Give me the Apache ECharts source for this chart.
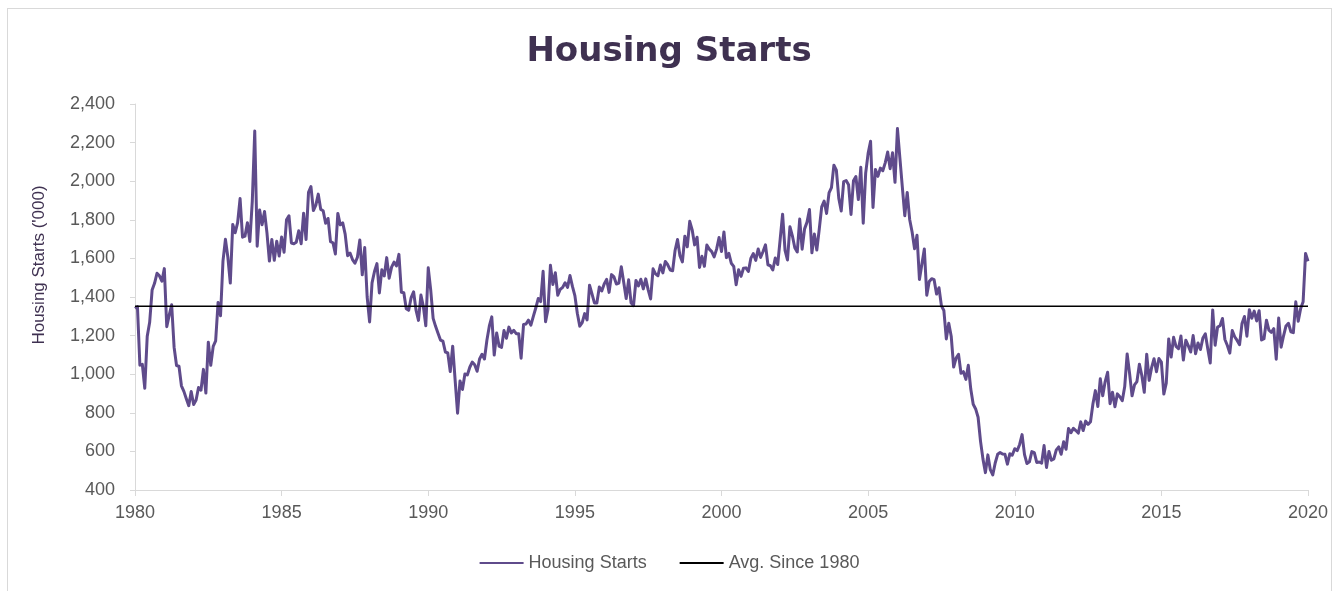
<!DOCTYPE html>
<html>
<head>
<meta charset="utf-8">
<script src="https://cdn.jsdelivr.net/npm/echarts@6.0.0/dist/echarts.min.js"></script>
<style>
    html, body { margin: 0; padding: 0; background: #fff; }
    #frame { position: absolute; left: 7px; top: 8px; width: 1323px; height: 600px; border: 1px solid #d9d9d9; }
    #chart { position: absolute; left: 0; top: 0; width: 1338px; height: 591px; }
</style>
</head>
<body>
<div id="frame"></div>
<div id="chart"></div>
<script>
    // monthly housing starts ('000, SAAR), Jan of first year -> Dec of last year
    const starts1980s = [
        1341, 1350, 1047, 1051, 927, 1196, 1269, 1436, 1471, 1523, 1510, 1482,
        1547, 1246, 1306, 1360, 1140, 1045, 1041, 940, 911, 873, 837, 910,
        843, 866, 931, 917, 1025, 902, 1166, 1046, 1144, 1173, 1372, 1303,
        1586, 1699, 1606, 1472, 1776, 1733, 1785, 1910, 1710, 1715, 1785, 1688,
        1897, 2260, 1663, 1851, 1774, 1843, 1732, 1586, 1698, 1590, 1689, 1612,
        1711, 1632, 1800, 1821, 1680, 1676, 1684, 1743, 1676, 1834, 1698, 1942,
        1972, 1848, 1876, 1933, 1854, 1847, 1782, 1807, 1687, 1681, 1623, 1833,
        1774, 1784, 1726, 1614, 1628, 1594, 1575, 1605, 1695, 1515, 1656, 1400,
        1271, 1473, 1532, 1573, 1421, 1541, 1509, 1604, 1497, 1555, 1581, 1561,
        1621, 1425, 1422, 1339, 1331, 1397, 1427, 1332, 1279, 1410, 1351, 1251
    ]
    const starts1990s = [
        1551, 1437, 1289, 1248, 1212, 1177, 1171, 1115, 1110, 1014, 1145, 969,
        798, 965, 921, 1001, 996, 1036, 1063, 1049, 1015, 1079, 1103, 1079,
        1176, 1250, 1297, 1099, 1214, 1145, 1139, 1226, 1186, 1244, 1214, 1227,
        1210, 1210, 1083, 1258, 1260, 1280, 1254, 1300, 1343, 1392, 1376, 1533,
        1272, 1337, 1564, 1465, 1526, 1409, 1439, 1450, 1474, 1450, 1511, 1455,
        1407, 1316, 1249, 1267, 1314, 1281, 1461, 1416, 1369, 1369, 1452, 1431,
        1467, 1491, 1424, 1516, 1504, 1467, 1472, 1557, 1475, 1392, 1489, 1370,
        1355, 1486, 1457, 1492, 1442, 1494, 1437, 1390, 1546, 1520, 1510, 1566,
        1525, 1584, 1567, 1540, 1536, 1641, 1698, 1614, 1582, 1715, 1660, 1792,
        1748, 1670, 1710, 1553, 1611, 1559, 1669, 1648, 1635, 1608, 1648, 1708
    ]
    const starts2000s = [
        1636, 1737, 1604, 1626, 1575, 1559, 1463, 1541, 1507, 1549, 1551, 1532,
        1600, 1625, 1590, 1649, 1605, 1636, 1670, 1567, 1562, 1540, 1602, 1568,
        1698, 1829, 1642, 1592, 1764, 1717, 1655, 1633, 1804, 1648, 1753, 1788,
        1853, 1629, 1726, 1643, 1751, 1867, 1897, 1833, 1939, 1967, 2083, 2057,
        1911, 1846, 1998, 2003, 1981, 1828, 2002, 2024, 1905, 2072, 1782, 2042,
        2144, 2207, 1864, 2061, 2025, 2068, 2054, 2095, 2151, 2065, 2147, 1994,
        2273, 2119, 1969, 1821, 1942, 1802, 1737, 1650, 1720, 1491, 1570, 1649,
        1409, 1480, 1495, 1490, 1415, 1448, 1354, 1330, 1183, 1264, 1197, 1037,
        1084, 1103, 1005, 1013, 973, 1046, 923, 844, 820, 777, 652, 560,
        490, 582, 505, 478, 540, 585, 594, 586, 585, 534, 588, 581
    ]
    const starts2010s = [
        614, 604, 636, 687, 583, 537, 546, 599, 594, 543, 545, 539,
        630, 517, 600, 554, 561, 608, 623, 585, 650, 611, 719, 697,
        720, 708, 695, 753, 708, 757, 740, 754, 847, 915, 833, 976,
        888, 962, 1010, 847, 907, 831, 898, 883, 863, 936, 1105, 1003,
        888, 945, 962, 1052, 993, 906, 1104, 968, 1034, 1080, 1013, 1081,
        1063, 897, 953, 1183, 1089, 1191, 1144, 1132, 1198, 1073, 1176, 1148,
        1115, 1200, 1106, 1162, 1128, 1188, 1209, 1130, 1058, 1333, 1150, 1244,
        1251, 1289, 1180, 1149, 1109, 1226, 1194, 1175, 1153, 1263, 1299, 1197,
        1334, 1290, 1327, 1276, 1329, 1177, 1184, 1280, 1228, 1217, 1236, 1078,
        1291, 1140, 1199, 1250, 1264, 1220, 1215, 1375, 1274, 1340, 1375, 1626
    ]
    const starts2020 = [1585]
    const avgSince1980 = 1352
    const firstYear = 1980
    const lastYear = 2020

    const monthly = [].concat(starts1980s, starts1990s, starts2000s, starts2010s, starts2020)
    const startsData = monthly.map((v, i) => [firstYear + i / 12, v])
    const avgData = [[firstYear, avgSince1980], [lastYear, avgSince1980]]

    const axisGray = '#d9d9d9'
    const labelGray = '#595959'

    echarts.init(document.getElementById('chart')).setOption({
        animation: false,
        title: {
            text: 'Housing Starts',
            left: 'center',
            top: 30,
            textStyle: {
                fontFamily: 'DejaVu Sans',
                fontWeight: 'bold',
                fontSize: 34,
                color: '#3f3151'
            }
        },
        grid: {left: 135, right: 30, top: 104, bottom: 101},
        legend: {
            bottom: 14,
            left: 'center',
            itemWidth: 44,
            itemHeight: 14,
            itemGap: 32,
            textStyle: {fontFamily: 'Liberation Sans', fontSize: 18, color: labelGray},
            data: [
                {name: 'Housing Starts', itemStyle: {opacity: 0}},
                {name: 'Avg. Since 1980', itemStyle: {opacity: 0}}
            ]
        },
        graphic: [{
            type: 'text',
            x: 39,
            y: 265,
            rotation: Math.PI / 2,
            style: {
                text: "Housing Starts ('000)",
                fontFamily: 'Liberation Sans',
                fontSize: 17,
                fill: '#3f3151',
                align: 'center',
                verticalAlign: 'middle'
            }
        }],
        xAxis: {
            type: 'value',
            min: firstYear,
            max: lastYear,
            interval: 5,
            splitLine: {show: false},
            axisLine: {lineStyle: {color: axisGray}},
            axisTick: {show: true, length: 6, lineStyle: {color: axisGray}},
            axisLabel: {
                margin: 14,
                fontFamily: 'Liberation Sans',
                fontSize: 18,
                color: labelGray,
                formatter: v => String(v)
            }
        },
        yAxis: {
            type: 'value',
            min: 400,
            max: 2400,
            interval: 200,
            splitLine: {show: false},
            axisLine: {show: true, lineStyle: {color: axisGray}},
            axisTick: {show: true, length: 5, lineStyle: {color: axisGray}},
            axisLabel: {
                margin: 20,
                fontFamily: 'Liberation Sans',
                fontSize: 18,
                color: labelGray,
                formatter: v => v.toLocaleString('en-US')
            }
        },
        series: [{
            name: 'Housing Starts',
            type: 'line',
            data: startsData,
            symbol: 'none',
            lineStyle: {color: '#5f4b8b', width: 3, join: 'round'},
            itemStyle: {color: '#5f4b8b'},
            z: 2
        }, {
            name: 'Avg. Since 1980',
            type: 'line',
            data: avgData,
            symbol: 'none',
            lineStyle: {color: '#000', width: 1.5},
            itemStyle: {color: '#000'},
            z: 3
        }]
    })
</script>
</body>
</html>
